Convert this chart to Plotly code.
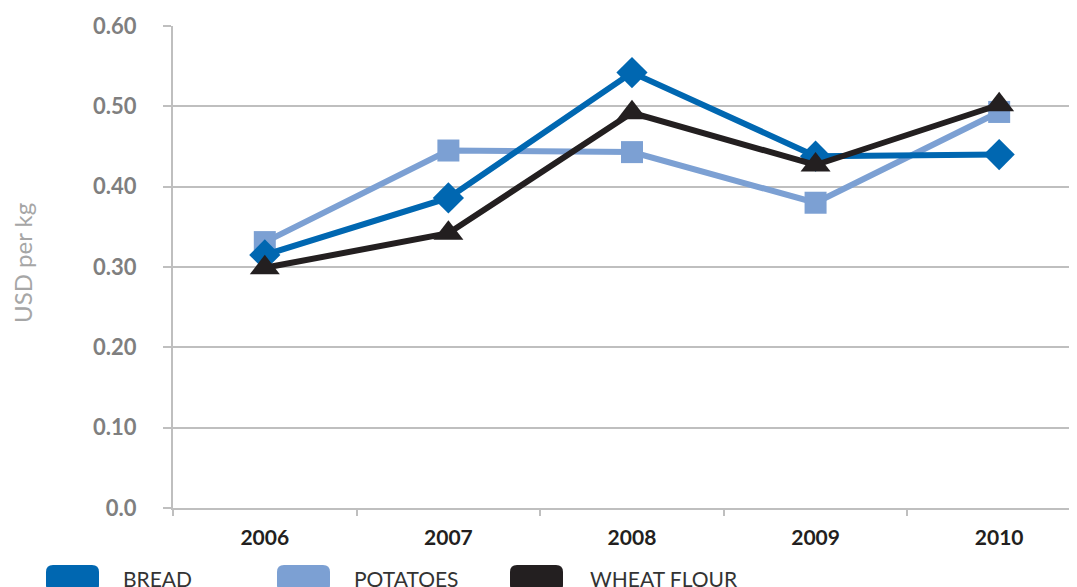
import plotly.graph_objects as go

years = ["2006", "2007", "2008", "2009", "2010"]
bread = [0.315, 0.386, 0.542, 0.438, 0.440]
potatoes = [0.331, 0.445, 0.443, 0.380, 0.493]
wheat_flour = [0.299, 0.342, 0.492, 0.427, 0.502]
y_tickvals = [0.0, 0.1, 0.2, 0.3, 0.4, 0.5, 0.6]
y_ticktext = ["0.0", "0.10", "0.20", "0.30", "0.40", "0.50", "0.60"]

C_BREAD = "#0067B1"
C_POT = "#7CA0D3"
C_WHEAT = "#231F20"
FONT = "Lato"

# page body has an 8px margin; work in screen pixels and shift
OFF = 8
W, H = 1077 - OFF, 587 - OFF
L, T = 173 - OFF, 26 - OFF
PLOT_BOTTOM = 508 - OFF
PLOT_RIGHT = 1077 - OFF
R = W - PLOT_RIGHT
B = H - PLOT_BOTTOM
PW = W - L - R
PH = H - T - B

fig = go.Figure()
# draw order: potatoes, bread, wheat flour
fig.add_trace(go.Scatter(x=years, y=potatoes, mode="lines+markers", name="POTATOES",
                         line=dict(color=C_POT, width=6),
                         marker=dict(symbol="square", size=22, color=C_POT), showlegend=False))
fig.add_trace(go.Scatter(x=years, y=bread, mode="lines+markers", name="BREAD",
                         line=dict(color=C_BREAD, width=6),
                         marker=dict(symbol="diamond", size=24, color=C_BREAD), showlegend=False))
fig.add_trace(go.Scatter(x=years, y=wheat_flour, mode="lines+markers", name="WHEAT FLOUR",
                         line=dict(color=C_WHEAT, width=6),
                         marker=dict(symbol="triangle-up", size=26, color=C_WHEAT), showlegend=False))


def px2paper(sx, sy):
    fx, fy = sx - OFF, sy - OFF
    return (fx - L) / PW, (H - B - fy) / PH


def rounded_rect(x0, y0, x1, y1, r=6):
    def p(x, y):
        a, b = px2paper(x, y)
        return f"{a:.5f},{b:.5f}"
    return (f"M {p(x0 + r, y0)} L {p(x1 - r, y0)} Q {p(x1, y0)} {p(x1, y0 + r)} "
            f"L {p(x1, y1 - r)} Q {p(x1, y1)} {p(x1 - r, y1)} "
            f"L {p(x0 + r, y1)} Q {p(x0, y1)} {p(x0, y1 - r)} "
            f"L {p(x0, y0 + r)} Q {p(x0, y0)} {p(x0 + r, y0)} Z")


legend_items = [("BREAD", C_BREAD, 46, 121), ("POTATOES", C_POT, 277, 352), ("WHEAT FLOUR", C_WHEAT, 510, 588)]
shapes = []
annotations = []
for label, col, bx, tx in legend_items:
    shapes.append(dict(type="path", xref="paper", yref="paper",
                       path=rounded_rect(bx, 565, bx + 53, 592, 7),
                       fillcolor=col, line=dict(width=0), layer="above"))
    ax, ay = px2paper(tx, 578)
    annotations.append(dict(x=ax, y=ay, xref="paper", yref="paper", text=label,
                            showarrow=False, xanchor="left", yanchor="middle",
                            font=dict(family=FONT, size=21, color="#333333")))

tx_, _ = px2paper(22, 0)
_, ty_ = px2paper(0, 263)
annotations.append(dict(x=tx_, y=ty_, xref="paper", yref="paper",
                        text="USD per kg", textangle=-90, showarrow=False,
                        xanchor="center", yanchor="middle",
                        font=dict(family=FONT, size=24, color="#A6A6A6")))

fig.update_layout(
    width=W, height=H,
    margin=dict(l=L, r=R, t=T, b=B, pad=0),
    paper_bgcolor="white", plot_bgcolor="white",
    shapes=shapes, annotations=annotations,
    showlegend=False,
    xaxis=dict(type="category", range=[-0.5, 4.424], showgrid=False,
               showline=True, linecolor="#BFBFBF", linewidth=2,
               ticks="outside", tickson="boundaries", ticklen=6, tickcolor="#BFBFBF", tickwidth=2,
               ticklabelstandoff=10,
               tickfont=dict(family=FONT, size=21, color="#231F20", weight="bold"),
               zeroline=False),
    yaxis=dict(range=[0, 0.6], tickvals=y_tickvals, ticktext=y_ticktext,
               showgrid=True, gridcolor="#BFBFBF", gridwidth=2,
               showline=True, linecolor="#BFBFBF", linewidth=2,
               ticks="outside", ticklen=8, tickcolor="#BFBFBF", tickwidth=2,
               ticklabelstandoff=22,
               tickfont=dict(family=FONT, size=22, color="#7F7F7F", weight="bold"),
               zeroline=False),
)

fig.write_html("out.html")
